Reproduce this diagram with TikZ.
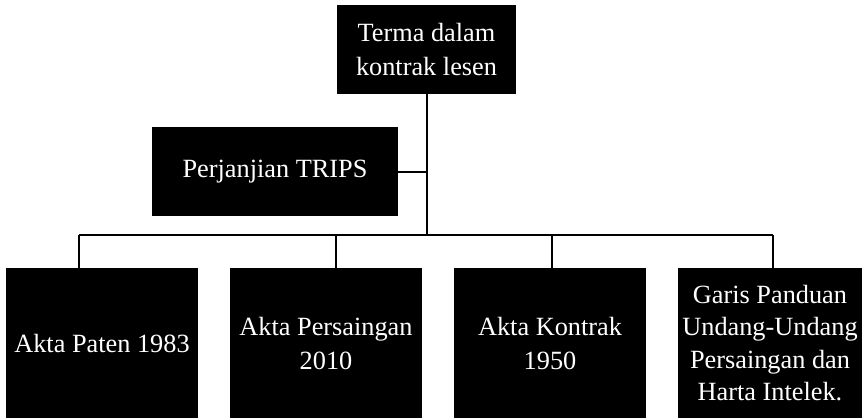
\documentclass[tikz,border=0pt]{standalone}
\usepackage{fontspec}
\setmainfont{Liberation Serif}
\begin{document}
\begin{tikzpicture}[x=1pt,y=-1pt,
  box/.style={fill=black,text=white,align=center,inner sep=0pt,
    font=\fontsize{26.3}{34}\selectfont},
  link/.style={draw=black,line width=2pt}]
\useasboundingbox (0,0) rectangle (864,418);
\node[box,minimum width=179pt,minimum height=89pt] (top) at (426.5,49.5) {Terma dalam\\kontrak lesen};
\node[box,minimum width=246pt,minimum height=89pt] (trips) at (275,171.5) {Perjanjian TRIPS};
\node[box,minimum width=192pt,minimum height=150pt] (b1) at (102,343) {Akta Paten 1983};
\node[box,minimum width=192pt,minimum height=150pt] (b2) at (326,343) {Akta Persaingan\\2010};
\node[box,minimum width=192pt,minimum height=150pt] (b3) at (550,343) {Akta Kontrak\\1950};
\node[box,minimum width=184pt,minimum height=150pt,font=\fontsize{26.3}{32.5}\selectfont] (b4) at (770,343) {Garis Panduan\\Undang-Undang\\Persaingan dan\\Harta Intelek.};
\coordinate (bus) at (426.5,235);
\coordinate (s1) at (79,235);
\coordinate (s2) at (336,235);
\coordinate (s3) at (552,235);
\coordinate (s4) at (773,235);
\draw[link] (top.south) -- (bus);
\draw[link] (trips.east) -- (trips.east -| bus);
\draw[link] (s1) -- (s4);
\draw[link] (s1) -- (s1 |- b1.north);
\draw[link] (s2) -- (s2 |- b2.north);
\draw[link] (s3) -- (s3 |- b3.north);
\draw[link] (s4) -- (s4 |- b4.north);
\end{tikzpicture}
\end{document}
